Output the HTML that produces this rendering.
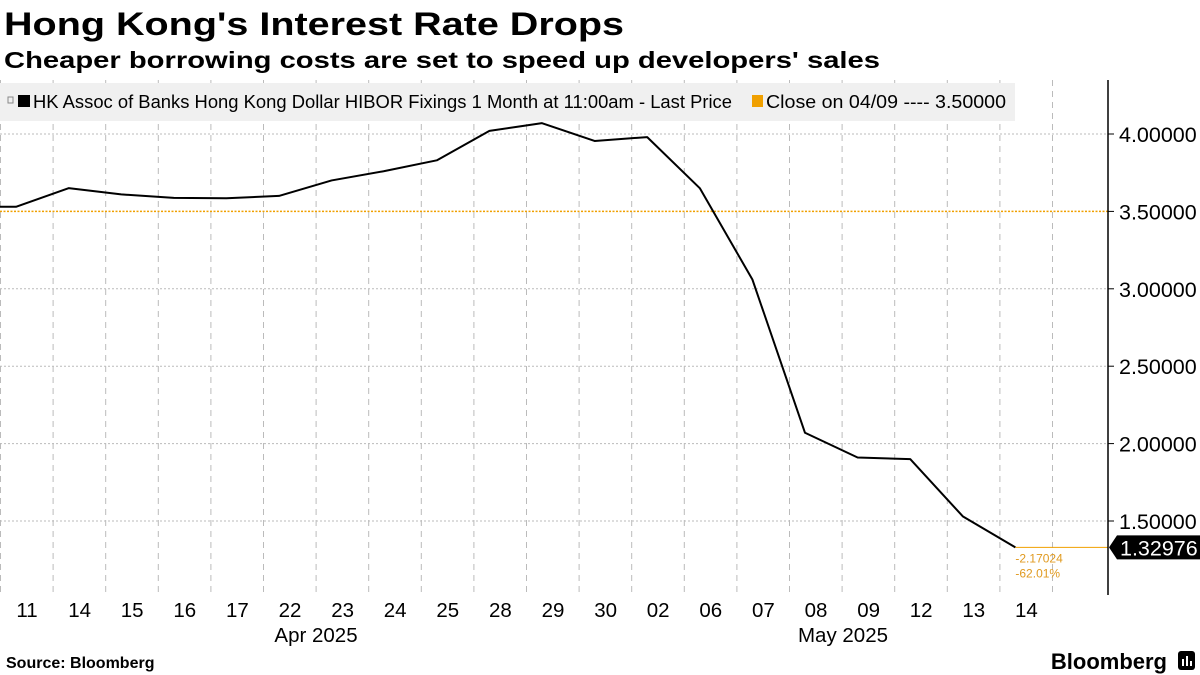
<!DOCTYPE html>
<html><head><meta charset="utf-8"><style>
body{margin:0;width:1200px;height:675px;background:#fff;overflow:hidden;font-family:"Liberation Sans",sans-serif}
</style></head><body>
<svg width="1200" height="675" style="position:absolute;left:0;top:0">
<text x="4" y="35" font-size="32" font-weight="bold" fill="#000" textLength="620" lengthAdjust="spacingAndGlyphs">Hong Kong's Interest Rate Drops</text>
<text x="4" y="68" font-size="23" font-weight="bold" fill="#000" textLength="876" lengthAdjust="spacingAndGlyphs">Cheaper borrowing costs are set to speed up developers' sales</text>
<g id="grid"></g>
<rect x="0" y="83" width="1015" height="38" fill="#f0f0f0"/>
<g>
<rect x="8" y="97" width="5" height="6" fill="none" stroke="#888" stroke-width="1"/>
<rect x="18" y="95" width="12" height="12" fill="#000"/>
<text x="33" y="108" font-size="18" fill="#000" textLength="699" lengthAdjust="spacingAndGlyphs">HK Assoc of Banks Hong Kong Dollar HIBOR Fixings 1 Month at 11:00am - Last Price</text>
</g>
<g>
<rect x="752" y="95" width="11" height="12" fill="#f0a000"/>
<text x="766" y="108" font-size="18" fill="#000" textLength="240" lengthAdjust="spacingAndGlyphs">Close on 04/09 ---- 3.50000</text>
</g>
<g id="marks"></g>
<line x1="1108" y1="80" x2="1108" y2="595" stroke="#000" stroke-width="1.5"/>
<g id="axis"></g>
<text x="316" y="642" font-size="20.5" text-anchor="middle" fill="#000">Apr 2025</text>
<text x="843" y="642" font-size="20.5" text-anchor="middle" fill="#000">May 2025</text>
<text x="6" y="668" font-size="16" font-weight="bold" fill="#000">Source: Bloomberg</text>
<text x="1167" y="669" font-size="22" font-weight="bold" text-anchor="end" fill="#000">Bloomberg</text>
<g><rect x="1178" y="651" width="17" height="19" rx="3" fill="#000"/><rect x="1182" y="659" width="2" height="7" fill="#fff"/><rect x="1186" y="656" width="2" height="10" fill="#fff"/><rect x="1190" y="661" width="2" height="5" fill="#fff"/></g>
</svg>
<script>
const categories=["11","14","15","16","17","22","23","24","25","28","29","30","02","06","07","08","09","12","13","14"];
const values=[3.53,3.65,3.61,3.587,3.585,3.60,3.70,3.76,3.83,4.02,4.07,3.955,3.98,3.65,3.06,2.07,1.91,1.90,1.53,1.32976];
const yTicks=[1.5,2.0,2.5,3.0,3.5,4.0];
const refValue=3.5;
const lastChange="-2.17024";
const lastPct="-62.01%";
const NS="http://www.w3.org/2000/svg";
const x=i=>16+52.6*i;
const y=v=>134+(4-v)*154.8;
function mk(t,a,p){const e=document.createElementNS(NS,t);for(const k in a)e.setAttribute(k,a[k]);p.appendChild(e);return e;}
const grid=document.getElementById('grid'),marks=document.getElementById('marks'),axis=document.getElementById('axis');
for(let k=0;k<=categories.length;k++){const gx=x(k)-15.5;if(gx>1100)break;
 const l=mk('line',{x1:gx,y1:80,x2:gx,y2:593,stroke:'#bbb','stroke-dasharray':'6,5','stroke-width':1},grid);
 
 }
yTicks.forEach(v=>{ if(v===refValue)return;
 const l=mk('line',{x1:0,y1:y(v),x2:1108,y2:y(v),stroke:'#bbb','stroke-dasharray':'2,2','stroke-width':1},grid);
 
 });
yTicks.forEach(v=>{
 const t=mk('line',{x1:1108,y1:y(v),x2:1114,y2:y(v),stroke:'#000'},axis);
 
 
 const tx=mk('text',{x:1119,y:y(v)+8,'font-size':21.5,fill:'#000'},axis);tx.textContent=v.toFixed(5);
 
 });
categories.forEach((c,i)=>{const t=mk('text',{x:x(i)+11,y:617,'font-size':20.5,'text-anchor':'middle',fill:'#000'},axis);t.textContent=c;
 
 });
const ref=mk('line',{x1:0,y1:y(refValue),x2:1108,y2:y(refValue),stroke:'#f0a000','stroke-dasharray':'2,1.5','stroke-width':1.5},marks);


let d='M0,'+y(values[0]);values.forEach((v,i)=>d+=' L'+x(i)+','+y(v));
const p=mk('path',{d:d,fill:'none',stroke:'#000','stroke-width':2,'stroke-linejoin':'round'},marks);


const last=values[values.length-1],lx=x(values.length-1);
const ll=mk('line',{x1:lx,y1:y(last),x2:1108,y2:y(last),stroke:'#f0a000','stroke-width':1},marks);


const c1=mk('text',{x:lx,y:y(last)+15,'font-size':12,fill:'#e09a20'},marks);c1.textContent=lastChange;


const c2=mk('text',{x:lx,y:y(last)+30,'font-size':12,fill:'#e09a20'},marks);c2.textContent=lastPct;


const ly=y(last);
const tag=mk('path',{d:`M1109,${ly} L1117,${ly-12} L1200,${ly-12} L1200,${ly+12} L1117,${ly+12} Z`,fill:'#000'},axis);


const tt=mk('text',{x:1120,y:ly+8,'font-size':21.5,fill:'#fff'},axis);tt.textContent=last.toFixed(5);


</script>
</body></html>
